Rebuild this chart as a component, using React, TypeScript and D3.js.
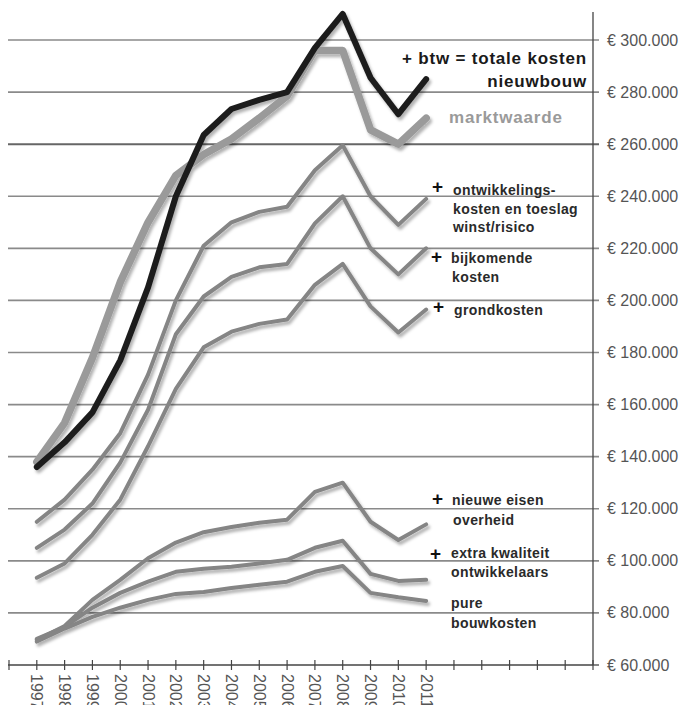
import * as d3 from 'd3'

const years = [1997, 1998, 1999, 2000, 2001, 2002, 2003, 2004, 2005, 2006, 2007, 2008, 2009, 2010, 2011]

// values (euro)
const totaleKosten = [136000, 145500, 157000, 177000, 205000, 240000, 263500, 273500, 277000, 280000, 297000, 310000, 285500, 271500, 285000]
const marktwaarde = [138000, 153000, 178000, 207000, 230000, 248000, 256000, 262000, 270000, 278500, 296000, 296000, 265500, 260000, 270000]
const ontwikkeling = [115000, 123500, 135000, 149000, 171500, 200000, 221000, 230000, 234000, 236000, 250000, 259600, 240000, 229000, 239000]
const bijkomend = [105000, 112000, 122000, 137700, 158000, 187000, 201500, 209000, 212700, 214000, 229600, 240000, 220000, 210000, 220000]
const grond = [93500, 99000, 110000, 123500, 144000, 166000, 182000, 188000, 191000, 192700, 206000, 214000, 197700, 187700, 196500]
const nieuweEisen = [69600, 75000, 85000, 92700, 101000, 107000, 111000, 113000, 114600, 115800, 126500, 130000, 115000, 108000, 114000]
const extraKwaliteit = [70000, 74600, 82000, 87700, 92000, 95800, 97000, 97700, 99000, 100400, 105000, 107700, 95000, 92300, 92700]
const pureBouw = [69000, 74000, 78500, 82000, 85000, 87300, 88000, 89600, 90800, 92000, 95800, 98000, 87700, 86000, 84600]

const yTicks = [60000, 80000, 100000, 120000, 140000, 160000, 180000, 200000, 220000, 240000, 260000, 280000, 300000]
const xTickYears = d3.range(1996, 2018)

const W = 685
const H = 705
const axisX = 593
const baseY = 665

const nl = d3.formatLocale({ decimal: ',', thousands: '.', grouping: [3], currency: ['€ ', ''] })
const fmt = nl.format(',')

export default function App(){
  const x = d3.scaleLinear().domain([1996, 2017]).range([9, axisX])
  const y = d3.scaleLinear().domain([60000, 300000]).range([baseY, 40])

  const line = d3.line<number>()
    .x((_, i) => x(years[i]))
    .y(d => y(d))

  const thin = [ontwikkeling, bijkomend, grond, nieuweEisen, extraKwaliteit, pureBouw]
  const font = 'Liberation Sans, Arial, Helvetica, sans-serif'

  const small = { fontFamily: font, fontSize: 14, fontWeight: 700, fill: '#2a2a2a', letterSpacing: 0.4 }
  const plus = { fontFamily: font, fontSize: 19, fontWeight: 700, fill: '#111' }

  return (
    <svg width={W} height={H} style={{ position: 'absolute', left: 0, top: 0, background: '#fff' }}>
      <defs>
        <filter id="shadow" x="-10%" y="-10%" width="130%" height="130%">
          <feDropShadow dx="2" dy="3" stdDeviation="1.8" floodColor="#000" floodOpacity="0.3" />
        </filter>
      </defs>

      {/* grid */}
      {yTicks.slice(1).map(t => (
        <line key={t} x1={8} x2={axisX + 6} y1={y(t)} y2={y(t)}
          stroke={t === 260000 ? '#666' : '#8a8a8a'} strokeWidth={t === 260000 ? 2 : 1.6} />
      ))}

      {/* right axis */}
      <line x1={axisX} x2={axisX} y1={12} y2={baseY} stroke="#444" strokeWidth={1.3} />
      <line x1={axisX} x2={axisX + 6} y1={baseY} y2={baseY} stroke="#444" strokeWidth={1.3} />
      {yTicks.map(t => (
        <text key={t} x={607} y={y(t)} dominantBaseline="central"
          style={{ fontFamily: font, fontSize: 16, fill: '#555' }}>€ {fmt(t)}</text>
      ))}

      {/* bottom axis */}
      <line x1={8} x2={axisX} y1={baseY} y2={baseY} stroke="#444" strokeWidth={1.3} />
      {xTickYears.map(yr => (
        <line key={yr} x1={x(yr)} x2={x(yr)} y1={baseY - 5} y2={baseY + 5} stroke="#444" strokeWidth={1.2} />
      ))}
      {years.map(yr => (
        <text key={yr} transform={`translate(${x(yr)},${674}) rotate(90)`} dominantBaseline="central"
          style={{ fontFamily: font, fontSize: 16, fill: '#555' }}>{yr}</text>
      ))}

      {/* series */}
      <g filter="url(#shadow)" fill="none" strokeLinejoin="round" strokeLinecap="round">
        {thin.map((s, i) => (
          <path key={i} d={line(s) ?? ''} stroke="#858585" strokeWidth={4} />
        ))}
        <path d={line(marktwaarde) ?? ''} stroke="#9a9a9a" strokeWidth={7.5} />
        <path d={line(totaleKosten) ?? ''} stroke="#1c1c1c" strokeWidth={6} />
      </g>

      {/* labels */}
      <g style={{ fontFamily: font, fontWeight: 700, fontSize: 17, letterSpacing: 0.8 }}>
        <text x={587} y={64} textAnchor="end" fill="#1a1a1a">+ btw = totale kosten</text>
        <text x={587} y={87} textAnchor="end" fill="#1a1a1a">nieuwbouw</text>
        <text x={449} y={123} fill="#9a9a9a">marktwaarde</text>
      </g>

      <text x={432} y={193} style={plus}>+</text>
      <text x={453} y={195} style={small}>ontwikkelings-</text>
      <text x={453} y={214} style={small}>kosten en toeslag</text>
      <text x={453} y={232} style={small}>winst/risico</text>

      <text x={431} y={263} style={plus}>+</text>
      <text x={451} y={263} style={small}>bijkomende</text>
      <text x={452} y={282} style={small}>kosten</text>

      <text x={433} y={313} style={plus}>+</text>
      <text x={454} y={315} style={small}>grondkosten</text>

      <text x={432} y={505} style={plus}>+</text>
      <text x={452} y={505} style={small}>nieuwe eisen</text>
      <text x={453} y={525} style={small}>overheid</text>

      <text x={430} y={560} style={plus}>+</text>
      <text x={451} y={558} style={small}>extra kwaliteit</text>
      <text x={451} y={577} style={small}>ontwikkelaars</text>

      <text x={451} y={608} style={small}>pure</text>
      <text x={451} y={628} style={small}>bouwkosten</text>
    </svg>
  )
}
